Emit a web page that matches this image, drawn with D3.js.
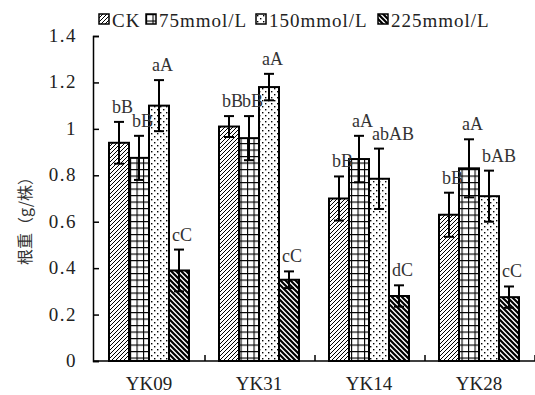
<!DOCTYPE html>
<html>
<head>
<meta charset="utf-8">
<script src="https://cdn.jsdelivr.net/npm/d3@7"></script>
<style>
  body { margin: 0; background: #fff; }
</style>
</head>
<body>
<div id="chart"></div>
<script>
// cultivars and salt treatments
var cultivars = ["YK09", "YK31", "YK14", "YK28"];
var treatments = ["CK", "75mmol/L", "150mmol/L", "225mmol/L"];

// root weight (g/plant), one array per treatment, in cultivar order
var ckVals   = [0.94, 1.01, 0.70, 0.63];
var t75Vals  = [0.875, 0.96, 0.87, 0.83];
var t150Vals = [1.10, 1.18, 0.785, 0.71];
var t225Vals = [0.39, 0.35, 0.28, 0.275];

// standard errors
var ckErr   = [0.09, 0.045, 0.095, 0.095];
var t75Err  = [0.095, 0.095, 0.10, 0.125];
var t150Err = [0.11, 0.057, 0.13, 0.11];
var t225Err = [0.09, 0.036, 0.046, 0.046];

// significance letters
var ckSig   = ["bB", "bB", "bB", "bB"];
var t75Sig  = ["bB", "bB", "aA", "aA"];
var t150Sig = ["aA", "aA", "abAB", "bAB"];
var t225Sig = ["cC", "cC", "dC", "cC"];

var yTicks = [0, 0.2, 0.4, 0.6, 0.8, 1, 1.2, 1.4];

var values = [ckVals, t75Vals, t150Vals, t225Vals];
var errors = [ckErr, t75Err, t150Err, t225Err];
var sigs = [ckSig, t75Sig, t150Sig, t225Sig];

var width = 535, height = 395;
var serif = "'Liberation Serif', 'Times New Roman', 'DejaVu Serif', serif";

var svg = d3.select("#chart").append("svg")
    .attr("width", width)
    .attr("height", height)
    .style("font-family", serif);

// fill patterns, one per treatment
var defs = svg.append("defs");

var p0 = defs.append("pattern").attr("id", "pat0")
    .attr("patternUnits", "userSpaceOnUse").attr("width", 4).attr("height", 4);
p0.append("rect").attr("width", 4).attr("height", 4).attr("fill", "#fff");
p0.append("path").attr("d", "M-1,1 L1,-1 M0,4 L4,0 M3,5 L5,3")
    .attr("stroke", "#000").attr("stroke-width", 1);

var p1 = defs.append("pattern").attr("id", "pat1")
    .attr("patternUnits", "userSpaceOnUse").attr("width", 6.5).attr("height", 6.5);
p1.append("rect").attr("width", 6.5).attr("height", 6.5).attr("fill", "#fff");
p1.append("path").attr("d", "M0,0 H6.5 M0,0 V6.5")
    .attr("stroke", "#000").attr("stroke-width", 2.2);

var p2 = defs.append("pattern").attr("id", "pat2")
    .attr("patternUnits", "userSpaceOnUse").attr("width", 6).attr("height", 6);
p2.append("rect").attr("width", 6).attr("height", 6).attr("fill", "#fff");
p2.append("rect").attr("x", 1).attr("y", 1).attr("width", 1.4).attr("height", 1.4).attr("fill", "#000");
p2.append("rect").attr("x", 4).attr("y", 4).attr("width", 1.4).attr("height", 1.4).attr("fill", "#000");

var p3 = defs.append("pattern").attr("id", "pat3")
    .attr("patternUnits", "userSpaceOnUse").attr("width", 5).attr("height", 5);
p3.append("rect").attr("width", 5).attr("height", 5).attr("fill", "#fff");
p3.append("path").attr("d", "M-1,4 L1,6 M0,0 L5,5 M4,-1 L6,1")
    .attr("stroke", "#000").attr("stroke-width", 2.2);

// scales
var x0 = d3.scaleBand().domain(cultivars).range([95, 535]);
var x1 = d3.scaleBand().domain(treatments).range([14, 94]);
var y = d3.scaleLinear().domain([0, 1.4]).range([361, 36]);

// y axis
var yAxis = svg.append("g")
    .attr("transform", "translate(93,0)")
    .call(d3.axisRight(y).tickValues(yTicks).tickSize(6).tickFormat(""));
yAxis.selectAll("line").attr("stroke", "#000").attr("stroke-width", 1.5);
yAxis.select(".domain").attr("stroke", "#000").attr("stroke-width", 1.5);

svg.append("g").selectAll("text")
    .data(yTicks)
    .enter().append("text")
    .attr("x", 77)
    .attr("y", function(d) { return y(d) + 6; })
    .attr("text-anchor", "end")
    .attr("font-size", 19)
    .attr("letter-spacing", 1.5)
    .attr("fill", "#222")
    .text(function(d) { return d3.format("")(d); });

// x axis line with ticks at band boundaries (pointing up)
svg.append("line")
    .attr("x1", 93).attr("x2", 535)
    .attr("y1", y(0)).attr("y2", y(0))
    .attr("stroke", "#000").attr("stroke-width", 1.5);
svg.append("g").selectAll("line")
    .data(cultivars)
    .enter().append("line")
    .attr("x1", function(d) { return x0(d) + x0.bandwidth(); })
    .attr("x2", function(d) { return x0(d) + x0.bandwidth(); })
    .attr("y1", y(0)).attr("y2", y(0) - 6)
    .attr("stroke", "#000").attr("stroke-width", 1.5);

svg.append("g").selectAll("text")
    .data(cultivars)
    .enter().append("text")
    .attr("x", function(d) { return x0(d) + x0.bandwidth() / 2 - 1; })
    .attr("y", 390)
    .attr("text-anchor", "middle")
    .attr("font-size", 19)
    .attr("fill", "#222")
    .text(function(d) { return d; });

// y axis title
svg.append("text")
    .attr("transform", "translate(31,217) rotate(-90)")
    .attr("text-anchor", "middle")
    .attr("font-size", 16)
    .attr("fill", "#333")
    .style("font-family", "'Noto Sans CJK SC', sans-serif")
    .text("根重（g/株）");

// bars
var allData = [];
treatments.forEach(function(t, ti) {
    cultivars.forEach(function(c, ci) {
        allData.push({ c: c, t: t, ti: ti, v: values[ti][ci], e: errors[ti][ci], s: sigs[ti][ci] });
    });
});

function cx(d) { return x0(d.c) + x1(d.t) + x1.bandwidth() / 2; }

svg.append("g").selectAll("rect")
    .data(allData)
    .enter().append("rect")
    .attr("x", function(d) { return x0(d.c) + x1(d.t); })
    .attr("y", function(d) { return y(d.v); })
    .attr("width", x1.bandwidth())
    .attr("height", function(d) { return y(0) - y(d.v); })
    .attr("fill", function(d) { return "url(#pat" + d.ti + ")"; })
    .attr("stroke", "#000")
    .attr("stroke-width", 2);

// error bars
var eb = svg.append("g").selectAll("g")
    .data(allData)
    .enter().append("g");
eb.append("line")
    .attr("x1", cx).attr("x2", cx)
    .attr("y1", function(d) { return y(d.v - d.e); })
    .attr("y2", function(d) { return y(d.v + d.e); })
    .attr("stroke", "#000").attr("stroke-width", 2);
eb.append("line")
    .attr("x1", function(d) { return cx(d) - 5; })
    .attr("x2", function(d) { return cx(d) + 5; })
    .attr("y1", function(d) { return y(d.v + d.e); })
    .attr("y2", function(d) { return y(d.v + d.e); })
    .attr("stroke", "#000").attr("stroke-width", 2);
eb.append("line")
    .attr("x1", function(d) { return cx(d) - 5; })
    .attr("x2", function(d) { return cx(d) + 5; })
    .attr("y1", function(d) { return y(d.v - d.e); })
    .attr("y2", function(d) { return y(d.v - d.e); })
    .attr("stroke", "#000").attr("stroke-width", 2);

// significance letters, left aligned just inside the bar's left edge
svg.append("g").selectAll("text")
    .data(allData)
    .enter().append("text")
    .attr("x", function(d) { return x0(d.c) + x1(d.t) + 3; })
    .attr("y", function(d) { return y(d.v + d.e) - 9; })
    .attr("font-size", 18)
    .attr("fill", "#333")
    .text(function(d) { return d.s; });

// legend
var legendX = [99, 146, 256, 378];
var legend = svg.append("g").selectAll("g")
    .data(treatments)
    .enter().append("g")
    .attr("transform", function(d, i) { return "translate(" + legendX[i] + ",14)"; });
legend.append("rect")
    .attr("width", 10).attr("height", 10)
    .attr("fill", function(d, i) { return "url(#pat" + i + ")"; })
    .attr("stroke", "#000").attr("stroke-width", 1.5);
legend.append("text")
    .attr("x", 13).attr("y", 13)
    .attr("font-size", 19)
    .attr("letter-spacing", 1)
    .attr("fill", "#222")
    .text(function(d) { return d; });
</script>
</body>
</html>
